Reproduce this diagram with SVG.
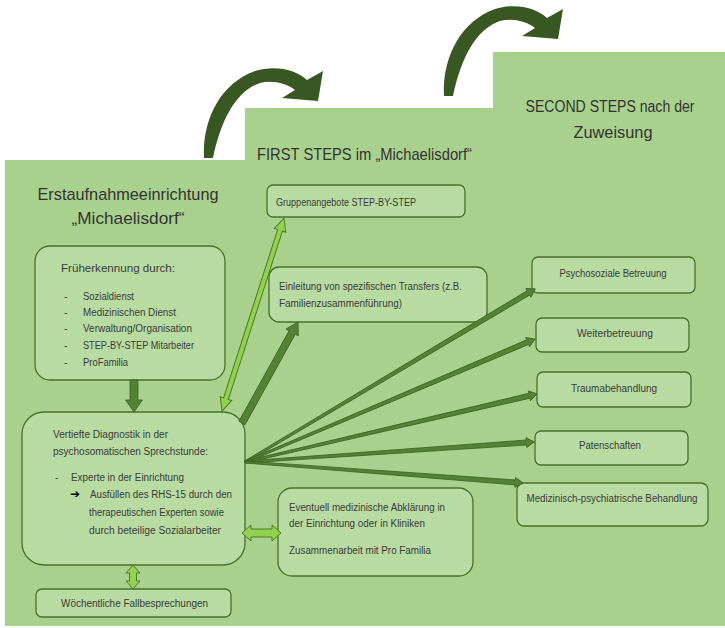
<svg xmlns="http://www.w3.org/2000/svg" width="725" height="628" viewBox="0 0 725 628">
<defs>
<style>
.bg{fill:#a9d18e}
.box{fill:#b8dba1;stroke:#44722a;stroke-width:1.3}
.t{font-family:"Liberation Sans",Arial,sans-serif;font-size:10px;fill:#3a3a3a}
.ta{font-size:10.5px}
.m{text-anchor:middle}
.title{font-family:"Liberation Sans",Arial,sans-serif;font-size:17px;fill:#333333}
.t2{font-size:16px}
.dark{fill:#548235;stroke:#3b6124;stroke-width:0.8}
.light{fill:#92d050;stroke:#4d7a28;stroke-width:1}
.curve{fill:#385723}
.sym{font-family:"DejaVu Sans",sans-serif;font-size:12px;font-weight:bold;fill:#000}
</style>
<path id="curvedArrow" d="M444,96 C442,60 459,22 495,9 C515,3 535,7 547,18 L563,9 L558,39 L522,36 L535,28 C526,21 512,18 500,21 C476,29 461,58 453,96 Z"/>
</defs>
<rect width="725" height="628" fill="#ffffff"/>
<polygon class="bg" points="5,160 245,160 245,108 493,108 493,52 725,52 725,626 5,626"/>

<g id="titles">
<text class="title m" x="128" y="200" textLength="181" lengthAdjust="spacingAndGlyphs">Erstaufnahmeeinrichtung</text>
<text class="title m" x="128" y="224" textLength="113" lengthAdjust="spacingAndGlyphs">„Michaelisdorf“</text>
<text class="title" x="257" y="160" textLength="215" lengthAdjust="spacingAndGlyphs">FIRST STEPS im „Michaelisdorf“</text>
<text class="title t2 m" x="610" y="112" textLength="169" lengthAdjust="spacingAndGlyphs">SECOND STEPS nach der</text>
<text class="title t2 m" x="613" y="138" textLength="79" lengthAdjust="spacingAndGlyphs">Zuweisung</text>
</g>

<g id="node-frueherkennung">
<rect class="box" x="35" y="246" width="190" height="134" rx="15"/>
<text class="t ta" x="61" y="272" textLength="114" lengthAdjust="spacingAndGlyphs">Früherkennung durch:</text>
<text class="t ta" x="64" y="300">-</text>
<text class="t ta" x="83" y="300" textLength="51" lengthAdjust="spacingAndGlyphs">Sozialdienst</text>
<text class="t ta" x="64" y="316">-</text>
<text class="t ta" x="83" y="316" textLength="93" lengthAdjust="spacingAndGlyphs">Medizinischen Dienst</text>
<text class="t ta" x="64" y="332">-</text>
<text class="t ta" x="83" y="332" textLength="109" lengthAdjust="spacingAndGlyphs">Verwaltung/Organisation</text>
<text class="t ta" x="64" y="349">-</text>
<text class="t ta" x="83" y="349" textLength="111" lengthAdjust="spacingAndGlyphs">STEP-BY-STEP Mitarbeiter</text>
<text class="t ta" x="64" y="366">-</text>
<text class="t ta" x="83" y="366" textLength="45" lengthAdjust="spacingAndGlyphs">ProFamilia</text>
</g>

<g id="node-diagnostik">
<rect class="box" x="22" y="412" width="223" height="153" rx="22"/>
<text class="t" x="53" y="438" textLength="115" lengthAdjust="spacingAndGlyphs">Vertiefte Diagnostik in der</text>
<text class="t" x="53" y="455" textLength="155" lengthAdjust="spacingAndGlyphs">psychosomatischen Sprechstunde:</text>
<text class="t" x="55" y="481">-</text>
<text class="t" x="71" y="481" textLength="113" lengthAdjust="spacingAndGlyphs">Experte in der Einrichtung</text>
<text class="sym" x="70" y="498">➔</text>
<text class="t" x="90" y="498" textLength="142" lengthAdjust="spacingAndGlyphs">Ausfüllen des RHS-15 durch den</text>
<text class="t" x="89" y="516" textLength="135" lengthAdjust="spacingAndGlyphs">therapeutischen Experten sowie</text>
<text class="t" x="89" y="534" textLength="132" lengthAdjust="spacingAndGlyphs">durch beteilige Sozialarbeiter</text>
</g>

<g id="node-fallbesprechungen">
<rect class="box" x="36" y="589" width="195" height="28" rx="6"/>
<text class="t m" x="134.5" y="607" textLength="147" lengthAdjust="spacingAndGlyphs">Wöchentliche Fallbesprechungen</text>
</g>

<g id="node-abklaerung">
<rect class="box" x="278" y="488" width="195" height="88" rx="14"/>
<text class="t" x="289" y="511" textLength="156" lengthAdjust="spacingAndGlyphs">Eventuell medizinische Abklärung in</text>
<text class="t" x="289" y="527" textLength="136" lengthAdjust="spacingAndGlyphs">der Einrichtung oder in Kliniken</text>
<text class="t" x="289" y="554" textLength="142" lengthAdjust="spacingAndGlyphs">Zusammenarbeit mit Pro Familia</text>
</g>

<g id="node-gruppenangebote">
<rect class="box" x="267" y="185" width="198" height="32" rx="6"/>
<text class="t" x="276" y="206" textLength="140" lengthAdjust="spacingAndGlyphs">Gruppenangebote STEP-BY-STEP</text>
</g>

<g id="node-transfers">
<rect class="box" x="269" y="267" width="218" height="55" rx="10"/>
<text class="t" x="279" y="290" textLength="183" lengthAdjust="spacingAndGlyphs">Einleitung von spezifischen Transfers (z.B.</text>
<text class="t" x="279" y="307" textLength="123" lengthAdjust="spacingAndGlyphs">Familienzusammenführung)</text>
</g>

<g id="node-psychosozial">
<rect class="box" x="532" y="257" width="163" height="36" rx="6"/>
<text class="t m" x="613" y="277" textLength="107" lengthAdjust="spacingAndGlyphs">Psychosoziale Betreuung</text>
</g>
<g id="node-weiterbetreuung">
<rect class="box" x="536" y="318" width="153" height="34" rx="6"/>
<text class="t m" x="615" y="337" textLength="76" lengthAdjust="spacingAndGlyphs">Weiterbetreuung</text>
</g>
<g id="node-trauma">
<rect class="box" x="537" y="372" width="154" height="35" rx="6"/>
<text class="t m" x="614" y="392" textLength="86" lengthAdjust="spacingAndGlyphs">Traumabehandlung</text>
</g>
<g id="node-patenschaften">
<rect class="box" x="535" y="431" width="153" height="34" rx="6"/>
<text class="t m" x="610" y="449" textLength="62" lengthAdjust="spacingAndGlyphs">Patenschaften</text>
</g>
<g id="node-psychiatrisch">
<rect class="box" x="517" y="483" width="191" height="43" rx="7"/>
<text class="t m" x="612" y="502" textLength="171" lengthAdjust="spacingAndGlyphs">Medizinisch-psychiatrische Behandlung</text>
</g>

<g id="connectors">
<use href="#curvedArrow" class="curve" transform="translate(-240,62)"/>
<use href="#curvedArrow" class="curve"/>
<path class="dark" d="M130,380 L138,380 L138,400 L142.5,400 L134,412 L125.5,400 L130,400 Z"/>
<path class="light" d="M133,565 L140,573 L136.5,573 L136.5,581 L140,581 L133,589 L126,581 L129.5,581 L129.5,573 L126,573 Z"/>
<path class="light" d="M242,533 L251,525 L251,529 L272,529 L272,525 L281,533 L272,541 L272,537 L251,537 L251,541 Z"/>
<path class="light" transform="translate(222,411) rotate(-72.19)" d="M0,0 L13,-6 L13,-2.5 L189.7,-2.5 L189.7,-6 L202.7,0 L189.7,6 L189.7,2.5 L13,2.5 L13,6 Z"/>
<path class="dark" transform="translate(242,423) rotate(-61)" d="M0,-3.5 L103.5,-3.5 L103.5,-7 L115.5,0 L103.5,7 L103.5,3.5 L0,3.5 Z"/>
<path class="dark" transform="translate(245,462) rotate(-30.82)" d="M0,-1 L330,-2.5 L330,-5 L338,0 L330,5 L330,2.5 L0,1 Z"/>
<path class="dark" transform="translate(245,462) rotate(-22.98)" d="M0,-1 L307,-2.5 L307,-5 L315,0 L307,5 L307,2.5 L0,1 Z"/>
<path class="dark" transform="translate(245,462) rotate(-13.11)" d="M0,-1 L292,-2.5 L292,-5 L300,0 L292,5 L292,2.5 L0,1 Z"/>
<path class="dark" transform="translate(245,462) rotate(-3.96)" d="M0,-1 L282,-2.5 L282,-5 L290,0 L282,5 L282,2.5 L0,1 Z"/>
<path class="dark" transform="translate(245,462) rotate(4.32)" d="M0,-1 L271,-2.5 L271,-5 L279,0 L271,5 L271,2.5 L0,1 Z"/>
</g>
</svg>
